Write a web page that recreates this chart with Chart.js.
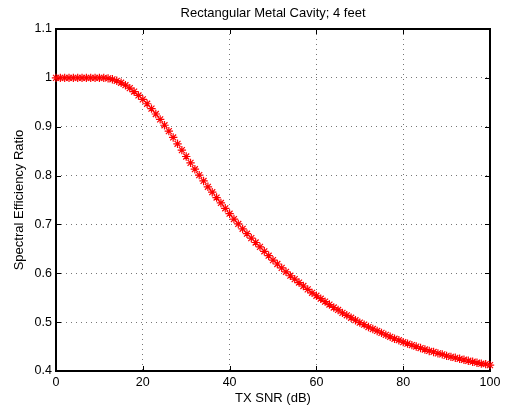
<!DOCTYPE html>
<html>
<head>
<meta charset="utf-8">
<script src="https://cdn.jsdelivr.net/npm/chart.js@4"></script>
<style>
  body { margin: 0; background: #fff; }
  #wrap { width: 506px; height: 407px; }
</style>
</head>
<body>
<div id="wrap"><canvas id="chart" width="506" height="407"></canvas></div>
<script>
// TX SNR (dB), 0..100 every 1 dB
const snr = [];
for (let i = 0; i <= 100; i++) snr.push(i);

// Spectral efficiency ratio
const ratio = [
  1.000, 1.000, 1.000, 1.000, 1.000, 1.000, 1.000, 1.000, 1.000, 1.000,
  1.000, 1.000, 0.999, 0.997, 0.994, 0.990, 0.985, 0.979, 0.972, 0.964,
  0.956, 0.947, 0.937, 0.926, 0.915, 0.903, 0.891, 0.878, 0.865, 0.852,
  0.839, 0.826, 0.813, 0.801, 0.789, 0.777, 0.766, 0.755, 0.744, 0.733,
  0.722, 0.711, 0.701, 0.691, 0.681, 0.672, 0.663, 0.654, 0.645, 0.636,
  0.627, 0.619, 0.611, 0.603, 0.595, 0.588, 0.581, 0.574, 0.567, 0.560,
  0.554, 0.548, 0.542, 0.536, 0.530, 0.525, 0.519, 0.514, 0.509, 0.504,
  0.499, 0.495, 0.490, 0.486, 0.482, 0.478, 0.474, 0.470, 0.466, 0.463,
  0.459, 0.456, 0.453, 0.450, 0.447, 0.444, 0.441, 0.439, 0.436, 0.434,
  0.431, 0.429, 0.427, 0.425, 0.423, 0.421, 0.419, 0.417, 0.415, 0.414,
  0.412
];

const xTicks = [0, 20, 40, 60, 80, 100];
const yTicks = [0.4, 0.5, 0.6, 0.7, 0.8, 0.9, 1.0, 1.1];

Chart.defaults.font.family = "'Liberation Sans', Arial, sans-serif";
Chart.defaults.font.size = 12;
Chart.defaults.color = '#000';

// boite noire + graduations vers l'interieur (style matlab)
const framePlugin = {
  id: 'frame',
  beforeDatasetsDraw(chart) {
    const ctx = chart.ctx;
    const a = chart.chartArea;
    const xs = chart.scales.x, ys = chart.scales.y;
    const t = 5;
    ctx.save();
    ctx.strokeStyle = '#000';
    ctx.lineWidth = 1;
    ctx.beginPath();
    xTicks.forEach(v => {
      const px = Math.round(xs.getPixelForValue(v)) + 0.5;
      ctx.moveTo(px, a.bottom); ctx.lineTo(px, a.bottom - t);
      ctx.moveTo(px, a.top); ctx.lineTo(px, a.top + t);
    });
    yTicks.forEach(v => {
      const py = Math.round(ys.getPixelForValue(v)) + 0.5;
      ctx.moveTo(a.left, py); ctx.lineTo(a.left + t, py);
      ctx.moveTo(a.right, py); ctx.lineTo(a.right - t, py);
    });
    ctx.stroke();
    ctx.lineWidth = 2;
    ctx.strokeRect(a.left, a.top, a.right - a.left, a.bottom - a.top);
    ctx.restore();
  }
};

new Chart(document.getElementById('chart'), {
  type: 'scatter',
  data: {
    labels: snr,
    datasets: [{
      data: snr.map((x, i) => ({ x: x, y: ratio[i] })),
      showLine: false,
      pointStyle: 'star',
      pointRadius: 4.2,
      pointBorderWidth: 1.2,
      borderColor: '#ff0000',
      backgroundColor: '#ff0000',
      clip: false
    }]
  },
  options: {
    responsive: false,
    animation: false,
    events: [],
    layout: { padding: { left: 0, right: 16, top: 0, bottom: 0 } },
    plugins: {
      legend: { display: false },
      tooltip: { enabled: false },
      title: {
        display: true,
        fullSize: false,
        text: 'Rectangular Metal Cavity; 4 feet',
        font: { size: 13, weight: 'normal' },
        color: '#000',
        padding: { top: 6, bottom: 7.4 }
      }
    },
    scales: {
      x: {
        type: 'linear',
        min: 0, max: 100,
        afterFit: s => { s.height = 36; },
        afterBuildTicks: s => { s.ticks = xTicks.map(v => ({ value: v })); },
        ticks: { padding: 4, maxRotation: 0, font: { size: 12.5 }, callback: v => String(v) },
        grid: { color: '#777', lineWidth: 1, drawTicks: false },
        border: { display: false, dash: [1, 4] },
        title: { display: true, text: 'TX SNR (dB)', font: { size: 13 }, padding: { top: 0, bottom: 1.2 } }
      },
      y: {
        type: 'linear',
        min: 0.4, max: 1.1,
        afterFit: s => { s.width = 56; },
        afterBuildTicks: s => { s.ticks = yTicks.map(v => ({ value: v })); },
        ticks: { padding: 4, font: { size: 12.5 }, callback: v => String(Math.round(v * 10) / 10) },
        grid: { color: '#777', lineWidth: 1, drawTicks: false },
        border: { display: false, dash: [1, 4] },
        title: { display: true, text: 'Spectral Efficiency Ratio', font: { size: 13 }, padding: { top: 11.2, bottom: 0 } }
      }
    }
  },
  plugins: [framePlugin]
});
</script>
</body>
</html>
